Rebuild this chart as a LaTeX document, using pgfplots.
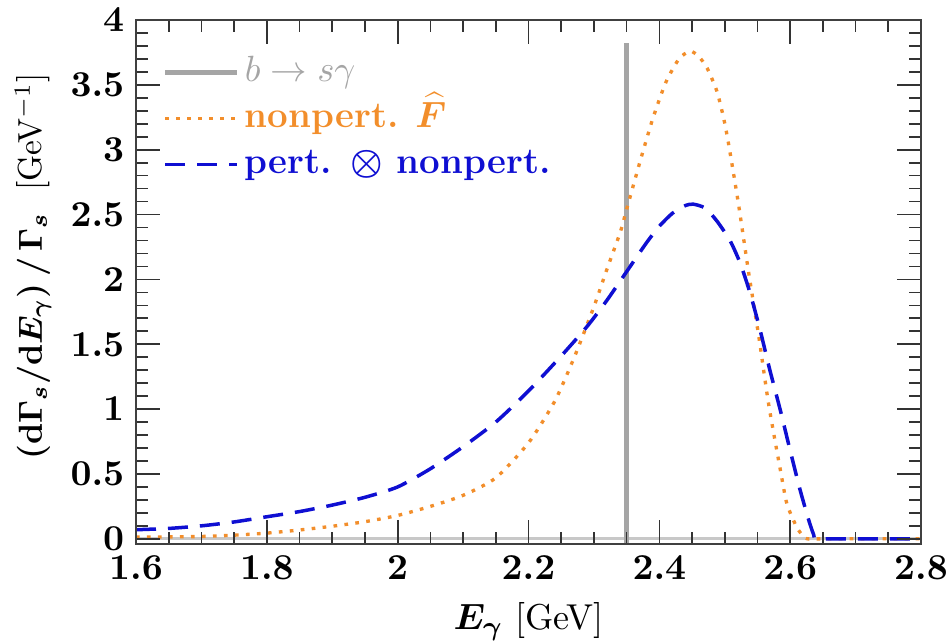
\documentclass[border=0pt]{standalone}
\usepackage{pgfplots}
\pgfplotsset{compat=1.18}
\definecolor{myorange}{RGB}{242,142,43}
\definecolor{myblue}{RGB}{15,15,210}
\definecolor{mygray}{RGB}{165,165,165}
\definecolor{zerogray}{RGB}{200,200,200}
\begin{document}
\begin{tikzpicture}
\begin{axis}[name=ax, scale only axis, width=235.5pt, height=157.2pt,
  xmin=1.6, xmax=2.8, ymin=-0.04, ymax=4,
  xtick={1.6,1.8,2,2.2,2.4,2.6,2.8},
  ytick={0,0.5,1,1.5,2,2.5,3,3.5,4},
  minor x tick num=3, minor y tick num=4,
  major tick length=7.2pt, minor tick length=3.6pt,
  tick style={black!80, line width=0.5pt},
  axis line style={black!75, line width=0.6pt},
  axis on top,
  ticklabel style={font=\boldmath\fontsize{10.6}{12}\selectfont},
  xlabel={{\boldmath$E_{\gamma}$}\ [GeV]},
  ylabel={{\boldmath$(\mathrm{d}\Gamma_{s}/\mathrm{d}E_{\gamma})\,/\,\Gamma_{s}$}\ \ [GeV$^{-1}$]},
  label style={font=\fontsize{10}{12}\selectfont},
  xlabel style={at={(axis description cs:0.5,-0.148)}, anchor=center, font=\fontsize{10.8}{12}\selectfont},
  ylabel style={at={(axis description cs:-0.131,0.53)}, anchor=center},
  legend style={at={(axis description cs:0.033,0.942)}, anchor=north west, draw=none, fill=none,
    inner sep=0pt, row sep=1.3pt, font=\bfseries\fontsize{11}{13}\selectfont,
    nodes={inner xsep=1.6pt, inner ysep=1pt, text height=8pt, text depth=2.6pt}},
  legend cell align=left,
  legend image code/.code={\draw[#1] (0pt,0pt) -- (21.6pt,0pt);},
]
\addplot[zerogray, line width=0.8pt, forget plot] coordinates {(1.6,0) (2.8,0)};
\addplot[mygray, line width=1.5pt] coordinates {(2.35,-0.04) (2.35,3.82)};
\addlegendentry{\textcolor{mygray}{\mdseries$b\rightarrow s\gamma$}}
\addplot[myorange, line width=1pt, dash pattern=on 1.1pt off 2.2pt, smooth, tension=0.4] coordinates {
(1.60,0.013) (1.65,0.015) (1.70,0.018) (1.75,0.028) (1.80,0.044) (1.85,0.068)
(1.90,0.097) (1.95,0.132) (2.00,0.180) (2.05,0.250) (2.10,0.335) (2.15,0.47)
(2.20,0.74) (2.24,1.06) (2.27,1.40) (2.30,1.79) (2.32,2.08) (2.34,2.36)
(2.35,2.54) (2.37,2.90) (2.39,3.24) (2.41,3.52) (2.43,3.70) (2.447,3.76)
(2.46,3.72) (2.473,3.63) (2.488,3.45) (2.498,3.25) (2.506,3.04) (2.521,2.58)
(2.536,2.07) (2.552,1.56) (2.567,1.04) (2.585,0.53) (2.595,0.27) (2.610,0.09)
(2.620,0.02) (2.626,0.0) (2.66,0.0) (2.8,0.0)};
\addlegendentry{\textcolor{myorange}{nonpert.\hspace{5pt}\smash{\boldmath$\widehat{F}$}}}
\addplot[myblue, line width=1.05pt, dash pattern=on 6pt off 3.6pt, smooth, tension=0.4] coordinates {
(1.60,0.07) (1.65,0.08) (1.70,0.10) (1.75,0.13) (1.80,0.17) (1.85,0.21)
(1.90,0.26) (1.95,0.32) (2.00,0.40) (2.05,0.54) (2.10,0.71) (2.15,0.90)
(2.20,1.14) (2.25,1.41) (2.29,1.64) (2.32,1.84) (2.35,2.06) (2.38,2.28)
(2.40,2.41) (2.42,2.51) (2.44,2.57) (2.452,2.58) (2.47,2.55) (2.488,2.45)
(2.508,2.30) (2.524,2.12) (2.539,1.89) (2.554,1.61) (2.569,1.30) (2.585,0.99)
(2.600,0.68) (2.615,0.38) (2.628,0.15) (2.636,0.03) (2.64,0) (2.68,0) (2.8,0)};
\addlegendentry{\textcolor{myblue}{pert. {\boldmath$\otimes$} nonpert.}}
\end{axis}
\pgfresetboundingbox
\path ([shift={(-40.8pt,-28.8pt)}]ax.south west) rectangle ([shift={(9pt,6pt)}]ax.north east);
\end{tikzpicture}
\end{document}
